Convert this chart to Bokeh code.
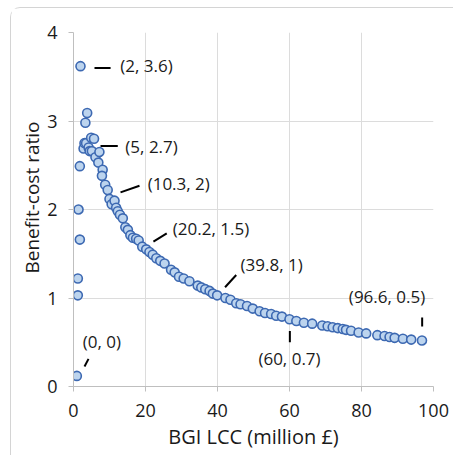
from bokeh.plotting import figure
from bokeh.models import ColumnDataSource, FixedTicker, Title
from bokeh.core.properties import value
from bokeh.embed import file_html
from bokeh.resources import INLINE

# --- data ---
bgi_lcc = [0.93, 1.2, 1.2, 1.76, 1.4, 1.76, 1.94, 3.3, 3.8, 2.8, 3.05, 3.5, 4.2, 4.5,
           4.9, 5.7, 5.1, 6.1, 7.2, 6.9, 8.1, 7.9, 8.8, 9.5, 10.0, 10.6, 11.4, 11.85,
           12.3, 12.9, 13.7, 14.4, 15.1, 15.8, 16.5, 17.4, 18.1, 19.1, 20.2, 21.1,
           22.0, 23.0, 24.1, 25.3, 27.1, 28.1, 29.3, 30.6, 32.2, 34.5, 35.5, 36.6,
           37.8, 38.7, 39.9, 42.2, 43.6, 45.2, 46.4, 48.2, 49.8, 51.7, 53.2, 54.9,
           56.3, 57.9, 60.0, 61.9, 64.0, 66.3, 69.1, 70.6, 72.0, 73.4, 74.8, 75.7,
           77.1, 79.2, 81.3, 84.4, 86.4, 87.8, 89.2, 91.5, 93.8, 96.8]
bcr = [0.12, 1.03, 1.22, 1.66, 2.0, 2.49, 3.62, 2.98, 3.09, 2.69, 2.75, 2.75, 2.70, 2.66,
       2.81, 2.80, 2.66, 2.59, 2.65, 2.53, 2.45, 2.38, 2.28, 2.22, 2.12, 2.06, 2.10, 2.02,
       1.98, 1.94, 1.90, 1.80, 1.77, 1.71, 1.68, 1.67, 1.65, 1.58, 1.55, 1.52,
       1.49, 1.45, 1.42, 1.39, 1.32, 1.29, 1.24, 1.22, 1.19, 1.14, 1.12, 1.10,
       1.08, 1.05, 1.03, 1.00, 0.98, 0.94, 0.93, 0.91, 0.88, 0.85, 0.83, 0.82,
       0.80, 0.79, 0.76, 0.74, 0.72, 0.71, 0.69, 0.68, 0.67, 0.66, 0.65, 0.64,
       0.63, 0.61, 0.60, 0.58, 0.57, 0.56, 0.55, 0.54, 0.53, 0.52]

x_ticks = [0, 20, 40, 60, 80, 100]
y_ticks = [0, 1, 2, 3, 4]

x_title = "BGI LCC (million £)"
y_title = "Benefit-cost ratio"

label_text = ["(2, 3.6)", "(5, 2.7)", "(10.3, 2)", "(20.2, 1.5)", "(39.8, 1)",
              "(96.6, 0.5)", "(60, 0.7)", "(0, 0)"]
label_x = [13.0, 14.4, 20.6, 27.6, 46.4, 87.1, 60.0, 7.9]
label_y = [3.63, 2.717, 2.295, 1.787, 1.381, 1.016, 0.312, 0.508]
label_align = ["left", "left", "left", "left", "left", "center", "center", "center"]
lead_x0 = [5.83, 7.5, 13.06, 22.2, 42.1, 96.85, 60.1, 3.06]
lead_y0 = [3.60, 2.717, 2.194, 1.637, 1.121, 0.677, 0.50, 0.226]
lead_x1 = [10.3, 12.3, 18.33, 25.9, 45.2, 96.85, 60.1, 4.17]
lead_y1 = [3.60, 2.717, 2.269, 1.731, 1.26, 0.779, 0.628, 0.312]

FONT = "Open Sans"

p = figure(width=443, height=448, x_range=(0, 100), y_range=(0, 4),
           output_backend="svg", toolbar_location=None,
           min_border_left=62, min_border_top=24, min_border_right=21, min_border_bottom=70,
           margin=(7, 0, 0, 10))
p.styles = {"border-top": "1px solid #d4d4d4", "border-left": "1px solid #d4d4d4",
            "border-top-left-radius": "10px"}
p.outline_line_color = None
p.background_fill_color = "white"

for ax in (p.xaxis[0], p.yaxis[0]):
    ax.axis_line_color = "#bfbfbf"
    ax.major_tick_line_color = "#bfbfbf"
    ax.minor_tick_line_color = None
    ax.major_tick_in = 0
    ax.major_tick_out = 5
    ax.major_label_text_font = FONT
    ax.major_label_text_font_size = "18px"
    ax.major_label_text_color = "#1a1a1a"
    ax.axis_label_text_font = FONT
    ax.axis_label_text_font_size = "20px"
    ax.axis_label_text_font_style = "normal"
    ax.axis_label_text_color = "#1a1a1a"

p.xaxis.ticker = FixedTicker(ticks=x_ticks)
p.yaxis.ticker = FixedTicker(ticks=y_ticks)
p.xaxis.axis_label = x_title
p.xaxis.major_label_standoff = 12
p.yaxis.major_label_standoff = 11
p.xaxis.axis_label_standoff = 3

# y-axis title as a side title so it can sit a little above the frame centre
p.add_layout(Title(text=y_title, align="left", offset=113, standoff=0,
                   vertical_align="bottom", text_font=FONT, text_font_size="19px",
                   text_font_style="normal", text_color="#1a1a1a"), "left")

p.xgrid.ticker = FixedTicker(ticks=x_ticks)
p.ygrid.ticker = FixedTicker(ticks=y_ticks)
p.grid.grid_line_color = "#dcdcdc"
p.grid.grid_line_width = 1

src = ColumnDataSource(dict(x=bgi_lcc, y=bcr))
p.scatter("x", "y", source=src, size=9, fill_color="#bcd4ee",
          line_color="#3d69b2", line_width=1.6)

lead = ColumnDataSource(dict(x0=lead_x0, y0=lead_y0, x1=lead_x1, y1=lead_y1))
p.segment("x0", "y0", "x1", "y1", source=lead, line_color="black", line_width=2)

lab = ColumnDataSource(dict(x=label_x, y=label_y, t=label_text, a=label_align))
p.text("x", "y", text="t", source=lab, text_align="a", text_baseline="middle",
       text_font=value(FONT), text_font_size="17px", text_color="#1a1a1a")

open("out.html", "w").write(file_html(p, INLINE))
